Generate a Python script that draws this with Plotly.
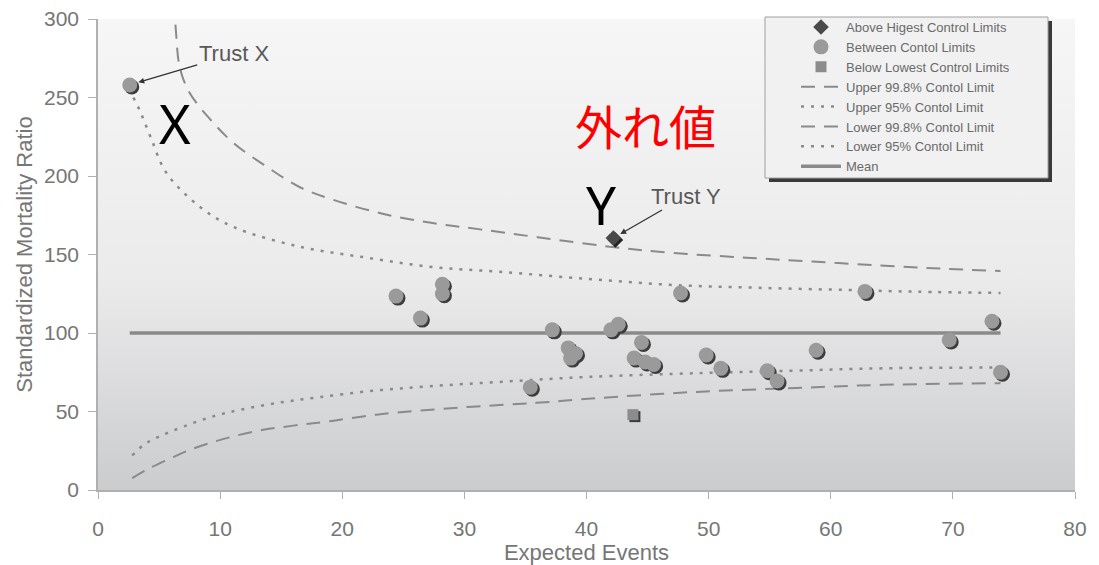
import base64
import plotly.graph_objects as go

# ---------------- data ----------------
# Trust points between the control limits
BETWEEN_X = [2.6, 24.4, 26.4, 28.2, 28.2, 35.4, 37.2, 38.5, 39.1, 38.7, 42.0, 42.6,
             44.5, 43.9, 44.8, 45.5, 47.7, 49.8, 51.0, 54.8, 55.6, 58.8, 62.8, 69.7,
             73.2, 73.9]
BETWEEN_Y = [258, 123.5, 109.5, 131, 125, 65.5, 102, 90.5, 87, 84, 102, 105.5,
             94, 84, 81.5, 80, 125.5, 86, 77.5, 76, 69.5, 89, 126.5, 95.5,
             107.5, 75]
# above highest control limit
ABOVE_X = [42.2]
ABOVE_Y = [160.5]
# below lowest control limit
BELOW_X = [43.8]
BELOW_Y = [48]

# Control limits
UP998_X = [5.6, 6.3, 6.7, 7.5, 9.2, 11.1, 13.8, 16.5, 19.2, 23.3, 27.4, 31.3, 36.0,
           41.9, 47.0, 53.1, 58.5, 64.0, 69.0, 73.9]
UP998_Y = [340, 299, 269, 253, 236, 221, 206, 193, 185, 176, 170, 166, 161,
           155, 151, 148, 145.5, 143, 141, 139.5]
UP95_X = [2.9, 3.4, 4.3, 5.6, 8.4, 11.1, 16.5, 22.0, 27.4, 32.9, 40.0, 47.1, 54.0,
          61.3, 67.0, 73.9]
UP95_Y = [250, 242, 225, 202, 180, 167.5, 155, 148, 142, 139, 134.5, 130.6, 128.8,
          127.4, 126.3, 125.5]
LOW998_X = [2.8, 4.0, 5.9, 7.5, 9.2, 11.0, 13.3, 16.0, 18.7, 22.8, 29.6, 35.9, 40.9,
            49.0, 57.2, 64.3, 73.9]
LOW998_Y = [7.6, 13, 20, 25.5, 30, 34, 38, 41, 43.5, 48, 52.5, 55.5, 58.5,
            62.5, 65, 67, 68]
LOW95_X = [2.8, 3.7, 4.7, 5.9, 7.8, 9.7, 11.6, 14.7, 18.0, 22.3, 27.0, 33.2, 40.0,
           49.5, 57.0, 64.3, 73.9]
LOW95_Y = [22, 28.5, 33, 37, 42.7, 47.5, 51, 55.5, 59, 63, 66, 69, 72,
           74.5, 76, 77.5, 78]
MEAN_X = [2.6, 73.9]
MEAN_Y = [100, 100]

X_TICKS = [0, 10, 20, 30, 40, 50, 60, 70, 80]
Y_TICKS = [0, 50, 100, 150, 200, 250, 300]

# ---------------- figure ----------------
FONT = "Liberation Sans, Arial, sans-serif"
GRAY_TXT = "#767676"
LINE_C = "#8a8a8a"

fig = go.Figure()

# control limit lines (base axes, drawn first)
fig.add_trace(go.Scatter(x=UP998_X, y=UP998_Y, mode="lines", name="Upper 99.8% Contol Limit",
                         legendrank=4,
                         line=dict(color=LINE_C, width=2, dash="14px,9px", shape="spline")))
fig.add_trace(go.Scatter(x=UP95_X, y=UP95_Y, mode="lines", name="Upper 95% Contol Limit",
                         legendrank=5,
                         line=dict(color=LINE_C, width=2.5, dash="3px,7px", shape="spline")))
fig.add_trace(go.Scatter(x=LOW998_X, y=LOW998_Y, mode="lines", name="Lower 99.8% Contol Limit",
                         legendrank=6,
                         line=dict(color=LINE_C, width=2, dash="14px,9px", shape="spline")))
fig.add_trace(go.Scatter(x=LOW95_X, y=LOW95_Y, mode="lines", name="Lower 95% Contol Limit",
                         legendrank=7,
                         line=dict(color=LINE_C, width=2.5, dash="3px,7px", shape="spline")))
fig.add_trace(go.Scatter(x=MEAN_X, y=MEAN_Y, mode="lines", name="Mean", legendrank=8,
                         line=dict(color=LINE_C, width=3.5)))

# shadow copies of the markers (drawn on slightly shifted overlay axes)
fig.add_trace(go.Scatter(x=BETWEEN_X, y=BETWEEN_Y, mode="markers", xaxis="x2", yaxis="y2",
                         marker=dict(symbol="circle", size=15, color="#3c3c3c"),
                         showlegend=False, hoverinfo="skip"))
fig.add_trace(go.Scatter(x=ABOVE_X, y=ABOVE_Y, mode="markers", xaxis="x2", yaxis="y2",
                         marker=dict(symbol="diamond", size=12, color="#222222"),
                         showlegend=False, hoverinfo="skip"))
fig.add_trace(go.Scatter(x=BELOW_X, y=BELOW_Y, mode="markers", xaxis="x2", yaxis="y2",
                         marker=dict(symbol="square", size=11, color="#3c3c3c"),
                         showlegend=False, hoverinfo="skip"))

# markers on top
fig.add_trace(go.Scatter(x=ABOVE_X, y=ABOVE_Y, mode="markers", name="Above Higest Control Limits",
                         xaxis="x3", yaxis="y3", legendrank=1,
                         marker=dict(symbol="diamond", size=12, color="#4a4a4a")))
fig.add_trace(go.Scatter(x=BETWEEN_X, y=BETWEEN_Y, mode="markers", name="Between Contol Limits",
                         xaxis="x3", yaxis="y3", legendrank=2,
                         marker=dict(symbol="circle", size=15, color="#9a9a9a")))
fig.add_trace(go.Scatter(x=BELOW_X, y=BELOW_Y, mode="markers", name="Below Lowest Control Limits",
                         xaxis="x3", yaxis="y3", legendrank=3,
                         marker=dict(symbol="square", size=11, color="#8c8c8c")))

# vertical gradient background for the plot area
svg = ('<svg xmlns="http://www.w3.org/2000/svg" width="100" height="100" preserveAspectRatio="none">'
       '<defs><linearGradient id="g" x1="0" y1="0" x2="0" y2="1">'
       '<stop offset="0" stop-color="#f6f6f6"/><stop offset="0.55" stop-color="#ebebec"/>'
       '<stop offset="1" stop-color="#cbccce"/></linearGradient></defs>'
       '<rect width="100" height="100" fill="url(#g)"/></svg>')
src = "data:image/svg+xml;base64," + base64.b64encode(svg.encode()).decode()

# the page body has an 8px margin: size the figure so the plot area lands where the reference has it
W, H = 1083, 557
L, R, T, B = 90, 16, 11, 75
pw, ph = W - L - R, H - T - B
dx = 2.0 * 80 / pw
dy = 2.0 * 300 / ph

fig.update_layout(
    width=W, height=H,
    margin=dict(l=L, r=R, t=T, b=B, autoexpand=False),
    paper_bgcolor="white",
    plot_bgcolor="rgba(0,0,0,0)",
    font=dict(family=FONT, color=GRAY_TXT, size=18),
    images=[dict(source=src, xref="paper", yref="paper", x=0, y=1, sizex=1, sizey=1,
                 sizing="stretch", layer="below", xanchor="left", yanchor="top")],
    xaxis=dict(range=[0, 80], tickvals=X_TICKS, showgrid=False, zeroline=False,
               showline=True, linecolor="#b0b0b0", linewidth=1.5, ticks="outside",
               ticklen=7, tickcolor="#b0b0b0", tickfont=dict(size=21, color=GRAY_TXT),
               ticklabelstandoff=12, automargin=False, ticklabeloverflow="allow",
               title=dict(text="Expected Events", font=dict(size=22, color=GRAY_TXT), standoff=4)),
    yaxis=dict(range=[0, 300], tickvals=Y_TICKS, showgrid=False, zeroline=False,
               showline=True, linecolor="#b0b0b0", linewidth=1.5, ticks="outside",
               ticklen=8, tickcolor="#b0b0b0", tickfont=dict(size=21, color=GRAY_TXT),
               ticklabelstandoff=5, automargin=False, ticklabeloverflow="allow",
               title=dict(text="Standardized Mortality Ratio", font=dict(size=22, color=GRAY_TXT),
                          standoff=5)),
    xaxis2=dict(range=[0 - dx, 80 - dx], overlaying="x", visible=False, anchor="y2"),
    yaxis2=dict(range=[0 + dy, 300 + dy], overlaying="y", visible=False, anchor="x2"),
    xaxis3=dict(range=[0, 80], overlaying="x", visible=False, anchor="y3"),
    yaxis3=dict(range=[0, 300], overlaying="y", visible=False, anchor="x3"),
    legend=dict(x=(796 - 98) / pw, y=1 + 7 / ph, xanchor="left", yanchor="top",
                bgcolor="rgba(0,0,0,0)", borderwidth=0,
                font=dict(size=13, color="#6a6a6a"), tracegroupgap=0, itemwidth=40),
    showlegend=True,
)

# legend frame with shadow (paper coordinates = plot area)
bx0 = (765 - 98) / pw
bx1 = (1048 - 98) / pw
by1 = 1 + (19 - 17) / ph
by0 = 1 - (178 - 19) / ph
sx = 4 / pw
sy = 4 / ph
fig.update_layout(shapes=[
    dict(type="rect", xref="paper", yref="paper", x0=bx0 + sx, x1=bx1 + sx, y0=by0 - sy, y1=by1 - sy,
         fillcolor="#3a3a3a", line=dict(width=0), layer="above"),
    dict(type="rect", xref="paper", yref="paper", x0=bx0, x1=bx1, y0=by0, y1=by1,
         fillcolor="#f1f1f1", line=dict(color="#a0a0a0", width=1), layer="above"),
])

annotations = [
    dict(x=2.6, y=258, xref="x", yref="y", text="Trust X", showarrow=True,
         ax=104, ay=-31, arrowhead=2, arrowsize=0.9, arrowwidth=1.3, arrowcolor="#333333",
         standoff=9, font=dict(size=22, color="#585858")),
    dict(x=42.2, y=160.5, xref="x", yref="y", text="Trust Y", showarrow=True,
         ax=73, ay=-42, arrowhead=2, arrowsize=0.9, arrowwidth=1.3, arrowcolor="#333333",
         standoff=8, font=dict(size=22, color="#585858")),
    dict(x=6.3, y=234, xref="x", yref="y", text="X", showarrow=False,
         font=dict(family="Noto Sans, sans-serif", size=54, color="black")),
    dict(x=41.2, y=182, xref="x", yref="y", text="Y", showarrow=False,
         font=dict(family="Noto Sans, sans-serif", size=53, color="black")),
    dict(x=44.8, y=232.5, xref="x", yref="y", text="外れ値", showarrow=False,
         font=dict(family="Noto Sans CJK JP", size=47, color="#ff0000")),
]
fig.update_layout(annotations=annotations)

fig.write_html("out.html")
